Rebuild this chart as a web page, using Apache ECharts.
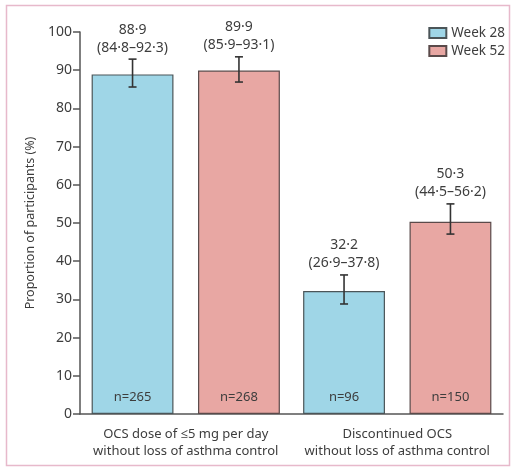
<!DOCTYPE html>
<html>
<head>
<meta charset="utf-8">
<script src="https://cdn.jsdelivr.net/npm/echarts@6/dist/echarts.min.js"></script>
<style>html,body{margin:0;padding:0;background:#fff}#c{width:513px;height:468px}</style>
</head>
<body>
<div id="c"></div>
<script>
var categories = ['OCS dose of \u22645 mg per day\nwithout loss of asthma control', 'Discontinued OCS\nwithout loss of asthma control'];
var seriesNames = ['Week 28', 'Week 52'];
var week28 = [88.9, 32.2];
var week52 = [89.9, 50.3];
// confidence intervals printed in the labels
var week28CiLo = [84.8, 26.9];
var week28CiHi = [92.3, 37.8];
var week52CiLo = [85.9, 44.5];
var week52CiHi = [93.1, 56.2];
// error-bar ends as drawn in the picture
var week28ErrLo = [85.6, 28.8];
var week28ErrHi = [92.9, 36.4];
var week52ErrLo = [86.9, 47.1];
var week52ErrHi = [93.5, 55.0];
var week28N = [265, 96];
var week52N = [268, 150];
var yTicks = [0, 10, 20, 30, 40, 50, 60, 70, 80, 90, 100];

var FONT = '"Noto Sans", "Open Sans", sans-serif';
var TXT = '#3d3d3d';
var BAR_FRAC = 0.387, GAP_FRAC = 0.3;
function fmt(v){ return v.toFixed(1).replace('.', '\u00b7'); }

var errData = [];
for (var i = 0; i < categories.length; i++) {
  errData.push([i, 0, week28[i], week28ErrLo[i], week28ErrHi[i], week28CiLo[i], week28CiHi[i]]);
  errData.push([i, 1, week52[i], week52ErrLo[i], week52ErrHi[i], week52CiLo[i], week52CiHi[i]]);
}

var chart = echarts.init(document.getElementById('c'), null, {renderer: 'canvas'});
chart.setOption({
  animation: false,
  textStyle: {fontFamily: FONT},
  graphic: [{
    type: 'rect', shape: {x: 6.5, y: 5.5, width: 503, height: 460},
    style: {fill: 'none', stroke: '#e7b9cb', lineWidth: 1.5}, silent: true, z: -1
  }],
  grid: {left: 80, right: 10, top: 32, bottom: 54, containLabel: false},
  legend: {
    orient: 'vertical', right: 3, top: 21, itemWidth: 17, itemHeight: 10, itemGap: 4,
    icon: 'rect',
    textStyle: {fontFamily: FONT, fontSize: 13.5, color: TXT},
    data: seriesNames
  },
  xAxis: {
    type: 'category', data: categories,
    axisLine: {lineStyle: {color: '#555', width: 1.5}},
    axisTick: {length: 6, lineStyle: {color: '#555', width: 1.5}},
    axisLabel: {interval: 0, fontFamily: FONT, fontSize: 13, color: TXT, lineHeight: 17, margin: 12}
  },
  yAxis: {
    type: 'value', min: 0, max: 100, interval: 10,
    name: 'Proportion of participants (%)', nameLocation: 'middle', nameGap: 43, nameRotate: 90,
    nameTextStyle: {fontFamily: FONT, fontSize: 12.5, color: TXT},
    splitLine: {show: false},
    axisLine: {show: true, lineStyle: {color: '#555', width: 1.5}},
    axisTick: {show: true, length: 7, lineStyle: {color: '#555', width: 1.5}},
    axisLabel: {fontFamily: FONT, fontSize: 14, color: TXT, margin: 8,
      formatter: function(v){ return yTicks.indexOf(v) >= 0 ? String(v) : ''; }}
  },
  series: [
    {
      name: seriesNames[0], type: 'bar', data: week28, barWidth: (BAR_FRAC*100)+'%', barGap: (GAP_FRAC*100)+'%',
      itemStyle: {color: '#9fd6e7', borderColor: '#4b5558', borderWidth: 1.2},
      label: {show: true, position: 'insideBottom', distance: 10, fontFamily: FONT, fontSize: 13, color: TXT,
        formatter: function(p){ return 'n=' + week28N[p.dataIndex]; }}
    },
    {
      name: seriesNames[1], type: 'bar', data: week52, barWidth: (BAR_FRAC*100)+'%',
      itemStyle: {color: '#e8a7a3', borderColor: '#5a4a4a', borderWidth: 1.2},
      label: {show: true, position: 'insideBottom', distance: 10, fontFamily: FONT, fontSize: 13, color: TXT,
        formatter: function(p){ return 'n=' + week52N[p.dataIndex]; }}
    },
    {
      type: 'custom', data: errData, z: 10,
      renderItem: function(params, api){
        var cat = api.value(0), s = api.value(1), val = api.value(2), lo = api.value(3), hi = api.value(4);
        var ciLo = api.value(5), ciHi = api.value(6);
        var band = api.size([1, 0])[0];
        var off = band * BAR_FRAC * (1 + GAP_FRAC) / 2;
        var c = api.coord([cat, val]);
        var x = c[0] + (s === 0 ? -off : off);
        var yLo = api.coord([cat, lo])[1];
        var yHi = api.coord([cat, hi])[1];
        var w = 4;
        var ls = {stroke: '#333', lineWidth: 1.6};
        return {type: 'group', children: [
          {type: 'line', shape: {x1: x, y1: yLo, x2: x, y2: yHi}, style: ls},
          {type: 'line', shape: {x1: x - w, y1: yLo, x2: x + w, y2: yLo}, style: ls},
          {type: 'line', shape: {x1: x - w, y1: yHi, x2: x + w, y2: yHi}, style: ls},
          {type: 'text', x: x, y: yHi - 2.5, style: {
            text: fmt(val) + '\n(' + fmt(ciLo) + '\u2013' + fmt(ciHi) + ')',
            align: 'center', verticalAlign: 'bottom', lineHeight: 18,
            font: '14px ' + FONT, fill: TXT}}
        ]};
      }
    }
  ]
});
</script>
</body>
</html>
